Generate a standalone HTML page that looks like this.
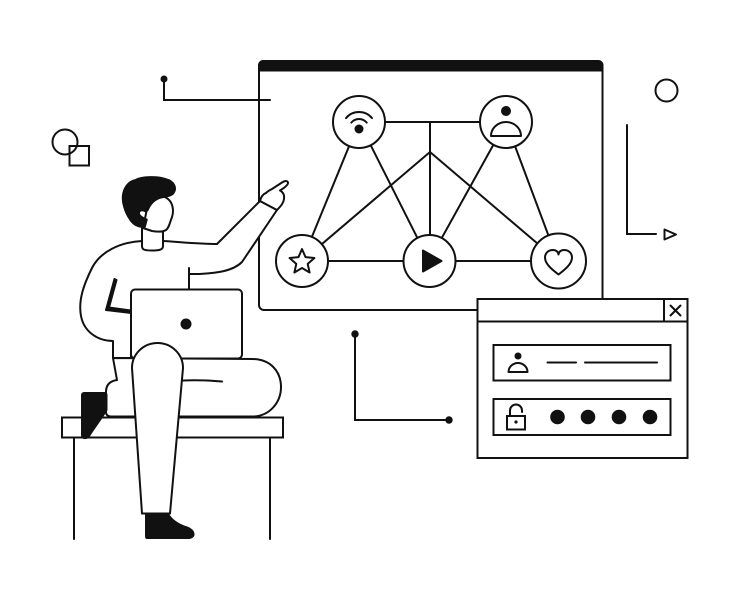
<!DOCTYPE html>
<html><head><meta charset="utf-8"><style>
html,body{margin:0;padding:0;background:#fff;}
svg{display:block;}
</style></head><body>
<svg width="740" height="600" viewBox="0 0 740 600" xmlns="http://www.w3.org/2000/svg">
<g fill="none" stroke="#111" stroke-width="2" stroke-linejoin="round" stroke-linecap="round">
<!-- decorations top-left -->
<circle cx="65" cy="142" r="12.5"/>
<rect x="69.5" y="146" width="19.5" height="19.5" stroke-linejoin="miter"/>
<!-- decorations top-right -->
<circle cx="666.5" cy="90.5" r="11"/>
<polyline points="627,125 627,234 656,234" stroke-linejoin="miter"/>
<polygon points="664.5,229.5 664.5,239.5 676,234.5"/>

<!-- main window -->
<rect x="259" y="61" width="343.5" height="249" rx="5" fill="#fff"/>
<rect x="258" y="60" width="345.5" height="11" rx="5" fill="#111" stroke="none"/>
<rect x="258" y="65" width="345.5" height="6.5" fill="#111" stroke="none"/>

<!-- pointer connector -->
<polyline points="164,79 164,100 270,100" stroke-linejoin="miter"/>
<circle cx="164" cy="79" r="3.5" fill="#111" stroke="none"/>

<!-- network lines -->
<line x1="359" y1="122" x2="506" y2="122"/>
<line x1="430" y1="122" x2="430" y2="261"/>
<line x1="430" y1="152" x2="302" y2="261"/>
<line x1="430" y1="152" x2="558" y2="261"/>
<line x1="359" y1="122" x2="302" y2="261"/>
<line x1="359" y1="122" x2="429" y2="261"/>
<line x1="506" y1="122" x2="429" y2="261"/>
<line x1="506" y1="122" x2="558" y2="261"/>
<line x1="302" y1="261" x2="558" y2="261"/>

<!-- nodes -->
<circle cx="359" cy="122" r="26" fill="#fff"/>
<circle cx="506" cy="122" r="26" fill="#fff"/>
<circle cx="302" cy="261" r="26" fill="#fff"/>
<circle cx="429.5" cy="261" r="26" fill="#fff"/>
<circle cx="558.5" cy="261" r="27.5" fill="#fff"/>

<!-- wifi -->
<circle cx="359" cy="129" r="4.5" fill="#111" stroke="none"/>
<path d="M346,118.1 A17,17 0 0 1 372,118.1"/>
<path d="M351.3,122.6 A10,10 0 0 1 366.7,122.6"/>
<!-- person icon -->
<circle cx="506" cy="111" r="5" fill="#111" stroke="none"/>
<path d="M491,136 A15,14 0 0 1 521,136 Z"/>
<!-- star -->
<polygon points="302,249 305.5,257.1 314.4,258 307.7,263.9 309.6,272.5 302,268 294.4,272.5 296.3,263.9 289.6,258 298.5,257.1"/>
<!-- play -->
<path d="M423,250.5 L423,271.5 L441.5,261 Z" fill="#111"/>
<!-- heart -->
<path d="M558.5,274.5 C552,269.5 545,264 545,257.5 C545,252.5 549,250 553,250 C556,250 558.5,252 558.5,254.5 C558.5,252 561,250 564,250 C568,250 572,252.5 572,257.5 C572,264 565,269.5 558.5,274.5 Z"/>

<!-- login window -->
<rect x="477.5" y="299" width="210" height="159" fill="#fff" stroke-linejoin="miter"/>
<line x1="477.5" y1="321.5" x2="687.5" y2="321.5"/>
<line x1="664" y1="299" x2="664" y2="321.5"/>
<line x1="670.5" y1="305.5" x2="680.5" y2="315.5"/>
<line x1="680.5" y1="305.5" x2="670.5" y2="315.5"/>
<rect x="493.5" y="345" width="177" height="35.5" stroke-linejoin="miter"/>
<rect x="493.5" y="399" width="177" height="36" stroke-linejoin="miter"/>
<circle cx="518" cy="356" r="3.5" fill="#111" stroke="none"/>
<path d="M508.5,372 A9.5,9 0 0 1 527.5,372 Z"/>
<line x1="547.5" y1="362.5" x2="576" y2="362.5"/>
<line x1="585" y1="362.5" x2="657" y2="362.5"/>
<rect x="507" y="416" width="18" height="13.5" stroke-linejoin="miter"/>
<path d="M510,416 L510,410.5 A6,6 0 0 1 522,410.5 L522,412"/>
<circle cx="516" cy="422" r="1.6" fill="#111" stroke="none"/>
<circle cx="557.5" cy="417" r="7.3" fill="#111" stroke="none"/>
<circle cx="588" cy="417" r="7.3" fill="#111" stroke="none"/>
<circle cx="619" cy="417" r="7.3" fill="#111" stroke="none"/>
<circle cx="650" cy="417" r="7.3" fill="#111" stroke="none"/>

<!-- L connector -->
<polyline points="355,334 355,420 449,420" stroke-linejoin="miter"/>
<circle cx="355" cy="334" r="3.7" fill="#111" stroke="none"/>
<circle cx="449" cy="420" r="3.7" fill="#111" stroke="none"/>

<!-- bench -->
<rect x="62" y="417.5" width="221" height="20" fill="#fff" stroke-linejoin="miter"/>
<line x1="74" y1="437.5" x2="74" y2="539"/>
<line x1="270" y1="437.5" x2="270" y2="539"/>

<!-- body + arm -->
<path d="M142,241 C120,242 100,252 92,268 C84,284 78,300 81,316 C84,332 98,341 113,341 L113,358 L131,358 L131,300 L189,300 L189,274 L200,274 C214,273 232,272 242,262 L277,210 L260,201 L217,244 C200,244 180,242 163,241 Z" fill="#fff"/>
<line x1="189" y1="268" x2="189" y2="289"/>
<path d="M114.5,279 L106,310 L131,313 L131,310.5 L109,307.5 L116.5,280 Z" fill="#111"/>
<!-- hand -->
<path d="M260,201 C261,197 263,194 266,193 C268,191 270,190 272,189 L282,182.5 C285,180.5 288,180.5 288,183 C288,185 284,188 280,190.5 C283,192 284.5,195 284,199 C283.5,203 281,206 277,210 Z" fill="#fff"/>

<!-- far leg / thigh -->
<path d="M113,358 L117,380 C110,381 106,385 106,392 L106,412 C106,415 108,416.5 111,416.5 L252,416.5 C270,416.5 281,402 281,387 C281,371 270,359 252,359 Z" fill="#fff"/>
<path d="M183,380.5 C196,380 210,380.5 222,381.5"/>

<!-- laptop -->
<rect x="131" y="289.5" width="111" height="69" rx="4" fill="#fff"/>
<circle cx="186" cy="324" r="5.5" fill="#111" stroke="none"/>

<!-- near leg -->
<path d="M142,513.5 L132,368 A25.5,25 0 0 1 183,368 L170,513.5 Z" fill="#fff"/>

<!-- shoes -->
<path d="M146,514 L168,514 C172,521 179,525 187,527.5 C195,530 196,538 188,538 L147,538 C146,538 146,537 146,536 Z" fill="#111"/>
<path d="M84,393 L105,393 C106,393 106.5,394 106.5,395 L106.5,410 C101,419 94,428 89,436 C87,439 82,439 82,435 L82,395 C82,394 83,393 84,393 Z" fill="#111"/>

<!-- neck -->
<path d="M142,224 L142,246 C142,250 145,250.5 152,250.5 C160,250.5 163,249.5 163,246 L163,226" fill="#fff"/>
<!-- face -->
<path d="M148,204 C152,196 162,194 168,199 C173,203 174,211 172,217 C170,222 169,228 166,230 C163,232 158,232 152,231 L143,228 Z" fill="#fff"/>
<!-- hair -->
<path d="M123,203 C121,192 126,182 135,180 C142,176 158,176 166,179 C174,181 178,188 173,194 C170,197 164,197 160,198 C154,200 150,205 148,210 L146,212 C142,209 138,211 139.5,214.5 C141,217.5 145,218.5 147,219.5 L145,227 C139,228 133,225 129.5,219 C126,214 124,208 123,203 Z" fill="#111" stroke-width="1.5"/>
</g>
</svg>
</body></html>
